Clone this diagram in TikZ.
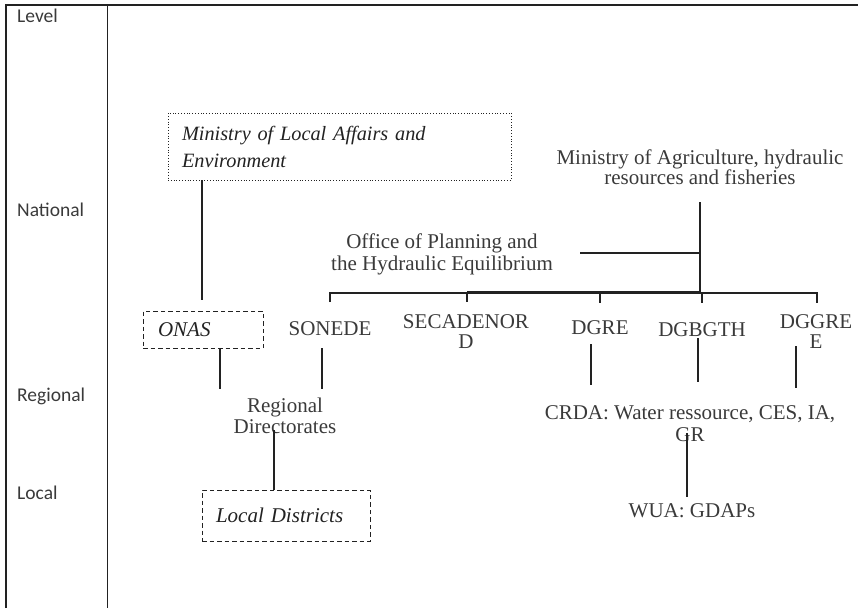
\documentclass[tikz,border=0pt]{standalone}
\usepackage{fontspec}
\setmainfont{Liberation Serif}
\newfontfamily\calib{Carlito}
\definecolor{ink}{HTML}{222222}
\definecolor{txt}{HTML}{3A3A3A}
\begin{document}
\begin{tikzpicture}[x=1pt,y=-1pt,
  lvltext/.style={anchor=west,inner sep=0pt,font=\calib\fontsize{19.5}{22}\selectfont,text=txt},
  lab/.style={inner sep=0pt,align=center,font=\fontsize{21}{20}\selectfont,text=txt},
  conn/.style={draw=ink,line width=1.4pt},
  framel/.style={draw=ink,line width=1.2pt},
  dotbox/.style={draw=ink,line width=0.8pt,dotted,inner xsep=14pt,inner ysep=0pt,align=left,font=\itshape\fontsize{20.3}{27}\selectfont,text=ink},
  dashbox/.style={draw=ink,line width=0.9pt,dash pattern=on 4.5pt off 3pt,inner ysep=0pt,align=left,font=\itshape\fontsize{21}{27}\selectfont,text=ink}
]
\useasboundingbox (0,0) rectangle (859,608);
% frame
\coordinate (ftl) at (6,5);
\coordinate (ftr) at (858,5);
\coordinate (fbl) at (6,608);
\coordinate (ctop) at (107.5,5);
\coordinate (cbot) at (107.5,608);
\draw[framel] (fbl) -- (ftl) -- (ftr);
\draw[framel] (ctop) -- (cbot);
% level column
\node[lvltext] (lvl) at (17,16) {Level};
\node[lvltext] (nat) at (17,210) {National};
\node[lvltext] (reg) at (17,396) {Regional};
\node[lvltext] (loc) at (17,493) {Local};
% boxes
\node[dotbox,text width=315pt,minimum width=343pt,minimum height=67pt] (mla) at (339.5,146.5)
  {Ministry of Local Affairs and\\Environment};
\node[dashbox,inner xsep=15pt,text width=90pt,minimum width=120pt,minimum height=37pt] (onas) at (203,329.5) {ONAS};
\node[dashbox,inner xsep=14pt,text width=140pt,minimum width=168pt,minimum height=51pt] (ld) at (286,515.5) {Local Districts};
% labels
\node[lab] (maf) at (700,167) {Ministry of Agriculture, hydraulic\\resources and fisheries};
\node[lab,font=\fontsize{21}{22}\selectfont] (opl) at (442,254) {Office of Planning and\\the Hydraulic Equilibrium};
\node[lab] (sonede) at (330,329) {SONEDE};
\node[lab] (seca) at (466,332) {SECADENOR\\D};
\node[lab] (dgre) at (600,328) {DGRE};
\node[lab] (dgb) at (702,330) {DGBGTH};
\node[lab] (dgg) at (816,332) {DGGRE\\E};
\node[lab,font=\fontsize{21}{21}\selectfont] (rd) at (285,415.5) {Regional\\Directorates};
\node[lab,font=\fontsize{21}{22}\selectfont] (crda) at (690,424) {CRDA: Water ressource, CES, IA,\\GR};
\node[lab] (wua) at (692,511) {WUA: GDAPs};
% connector coordinates
\coordinate (m1) at (202,300);
\coordinate (o1) at (220,389);
\coordinate (s0) at (322,348);
\coordinate (s1) at (322,389);
\coordinate (rd0) at (274,430);
\coordinate (a0) at (700,202);
\coordinate (a1) at (700,292);
\coordinate (p0) at (580,253);
\coordinate (p1) at (700,253);
\coordinate (b1) at (330,293);
\coordinate (b1d) at (330,302);
\coordinate (b5) at (817,293);
\coordinate (b5d) at (817,303);
\coordinate (b2) at (467,293);
\coordinate (b2d) at (467,302);
\coordinate (b3) at (600,293);
\coordinate (b3d) at (600,303);
\coordinate (b4) at (702,293);
\coordinate (b4d) at (702,303);
\coordinate (k0) at (467,291.3);
\coordinate (k1) at (701,291.3);
\coordinate (g0) at (591,344);
\coordinate (g1) at (591,385);
\coordinate (h0) at (698,338);
\coordinate (h1) at (698,382);
\coordinate (e0) at (796,346);
\coordinate (e1) at (796,388);
\coordinate (c0) at (687,433);
\coordinate (c1) at (687,497);
% connectors
\draw[conn] (mla.south -| m1) -- (m1);
\draw[conn] (onas.south -| o1) -- (o1);
\draw[conn] (s0) -- (s1);
\draw[conn] (rd0) -- (rd0 |- ld.north);
\draw[conn] (a0) -- (a1);
\draw[conn] (p0) -- (p1);
\draw[conn,line width=1.2pt] (b1d) -- (b1) -- (b5) -- (b5d);
\draw[conn,line width=1.2pt] (b2) -- (b2d);
\draw[conn,line width=1.2pt] (b3) -- (b3d);
\draw[conn,line width=1.2pt] (b4) -- (b4d);
\draw[conn,line width=1.6pt] (k0) -- (k1);
\draw[conn] (g0) -- (g1);
\draw[conn] (h0) -- (h1);
\draw[conn] (e0) -- (e1);
\draw[conn] (c0) -- (c1);
\end{tikzpicture}
\end{document}
